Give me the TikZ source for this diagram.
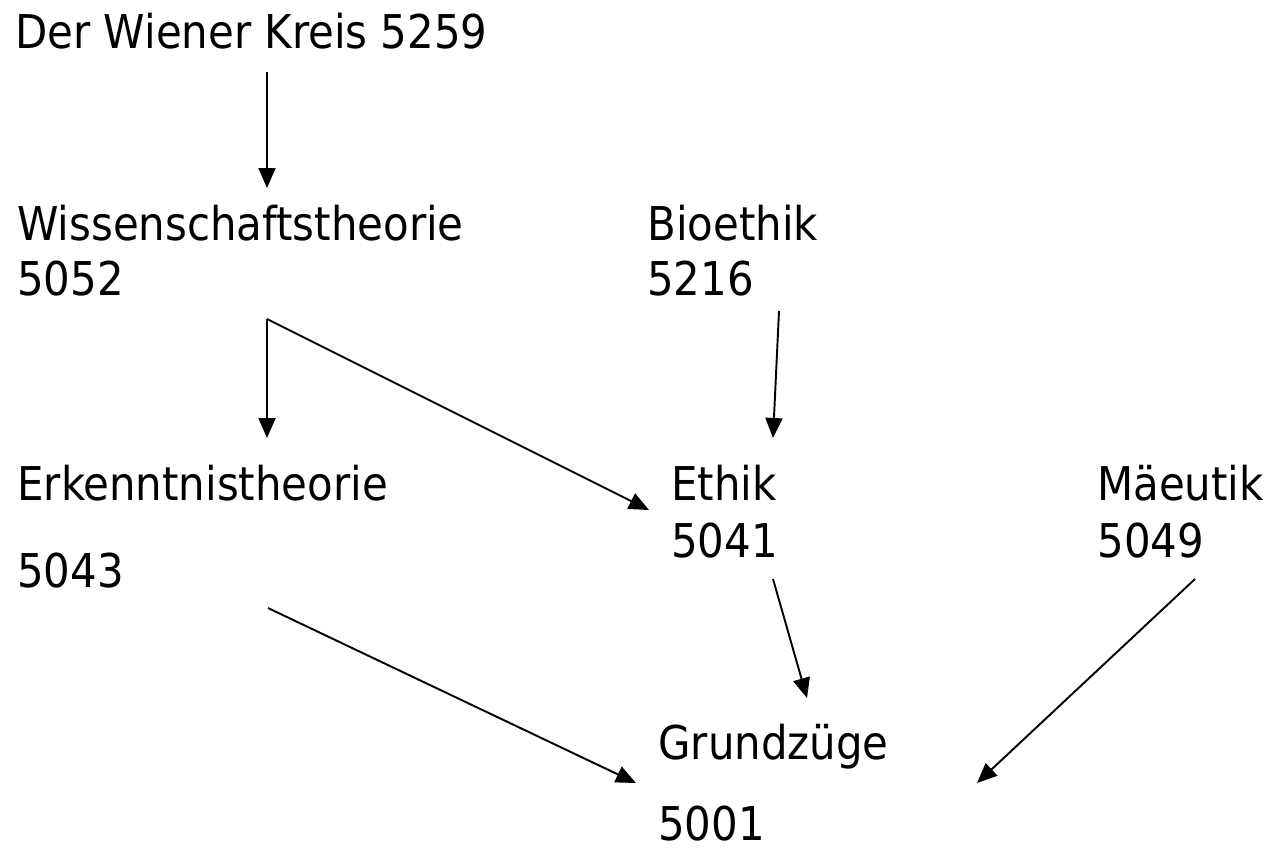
\documentclass[tikz,border=0pt]{standalone}
\usepackage{fontspec}
\setmainfont{DejaVu Sans Condensed}
\usetikzlibrary{arrows.meta}

\begin{document}
\begin{tikzpicture}[x=0.02cm,y=-0.02cm,
    txt/.style={anchor=base west,inner sep=0pt,font=\fontsize{26.5}{31}\selectfont},
    pfeil/.style={line width=1.1pt,-{Triangle[length=0.4cm,width=0.34cm]}}]
  \useasboundingbox (0,0) rectangle (1270,853);
      \node[txt](kreis) at (15,48){Der Wiener Kreis 5259};
        \node[txt](wiss) at (17,240){Wissenschaftstheorie};
        \node[txt](wissn) at (17,295){5052};
        \node[txt](bio) at (647,240){Bioethik};
        \node[txt](bion) at (647,295){5216};
        \node[txt](erk) at (17,500){Erkenntnistheorie};
        \node[txt](erkn) at (17,587){5043};
        \node[txt](eth) at (671,500){Ethik};
        \node[txt](ethn) at (671,557){5041};
        \node[txt](mae) at (1097,500){Mäeutik};
        \node[txt](maen) at (1097,557){5049};
                \node[txt](grund) at (658,759){Grundzüge};
                \node[txt](grundn) at (658,840){5001};

  \coordinate(k1) at (267,72);   \coordinate(k2) at (267,188);
  \coordinate(w1) at (267,319);  \coordinate(w2) at (267,438);
  \coordinate(w3) at (649,510);
  \coordinate(b1) at (779,311);  \coordinate(b2) at (773,438);
  \coordinate(e1) at (268,608);  \coordinate(g1) at (636,783);
  \coordinate(t1) at (773,579);  \coordinate(g2) at (807,698);
  \coordinate(m1) at (1195,579); \coordinate(g3) at (977,783);

          \draw[pfeil](k1)--(k2);
          \draw[pfeil](w1)--(w2);
          \draw[pfeil](w1)--(w3);
          \draw[pfeil](b1)--(b2);
  \draw[pfeil](e1)--(g1);
  \draw[pfeil](t1)--(g2);
  \draw[pfeil](m1)--(g3);

\end{tikzpicture}
\end{document}
